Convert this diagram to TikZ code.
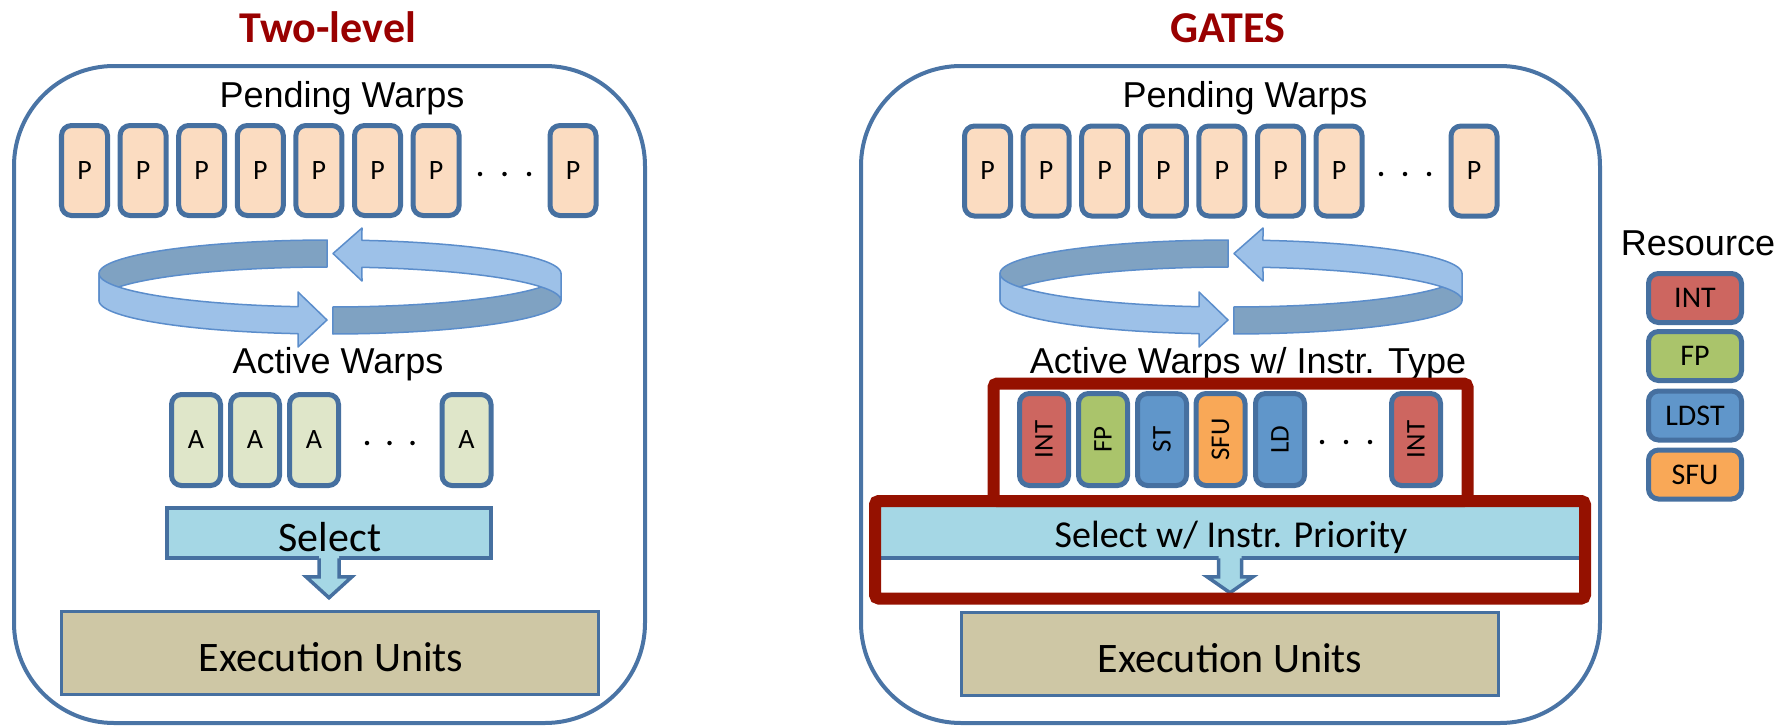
\documentclass[tikz,border=0pt]{standalone}
\usepackage{fontspec}
\setmainfont{Carlito}
\newfontfamily\arialfont{Liberation Sans}
\usetikzlibrary{calc}

\definecolor{frameblue}{RGB}{74,116,165}
\definecolor{boxblue}{RGB}{70,112,160}
\definecolor{pfill}{RGB}{251,220,193}
\definecolor{afill}{RGB}{223,230,201}
\definecolor{intred}{RGB}{205,102,96}
\definecolor{fpgreen}{RGB}{170,196,107}
\definecolor{ldblue}{RGB}{96,150,202}
\definecolor{sfuorange}{RGB}{249,168,87}
\definecolor{selfill}{RGB}{165,215,229}
\definecolor{exfill}{RGB}{206,199,165}
\definecolor{bandlight}{RGB}{157,193,232}
\definecolor{banddark}{RGB}{127,162,194}
\definecolor{bandline}{RGB}{91,141,203}
\definecolor{titlered}{RGB}{153,0,0}
\definecolor{hilite}{RGB}{149,17,0}

\tikzset{
  outerbox/.style={draw=frameblue, line width=1.6pt, rounded corners=40pt},
  warp/.style={draw=boxblue, line width=2pt, rounded corners=4pt, inner sep=0pt,
               font=\fontsize{11.2}{13}\selectfont},
  pwarp/.style={warp, fill=pfill, minimum width=18.4pt, minimum height=36pt},
  awarp/.style={warp, fill=afill, minimum width=19.6pt, minimum height=36.4pt},
  iwarp/.style={warp, rotate=90, minimum width=36.8pt, minimum height=19.6pt,
                font=\fontsize{10.8}{12}\selectfont},
  legbox/.style={warp, minimum width=37.2pt, minimum height=19.6pt,
                 font=\fontsize{12}{14}\selectfont},
  headtext/.style={font=\fontsize{14.4}{16}\selectfont\arialfont, anchor=base, inner sep=0pt},
  paneltitle/.style={font=\fontsize{17.6}{20}\selectfont\bfseries, text=titlered,
                     anchor=base, inner sep=0pt},
  selbox/.style={draw=boxblue, line width=1.4pt, fill=selfill, inner sep=0pt},
  exbox/.style={draw=boxblue, line width=1.2pt, fill=exfill, inner sep=0pt},
  bigtext/.style={font=\fontsize{16.8}{19}\selectfont, anchor=base, inner sep=0pt},
  midtext/.style={font=\fontsize{15.2}{17}\selectfont, anchor=base, inner sep=0pt},
  bandback/.style={fill=banddark, draw=bandline, line width=0.6pt, line join=round},
  bandfront/.style={fill=bandlight, draw=bandline, line width=0.6pt, line join=round},
  arrowside/.style={draw=boxblue, line width=1.4pt, line join=miter},
  frame/.style={draw=hilite, line width=4.8pt, rounded corners=1.5pt},
  dot/.style={fill=black}
}

% looping ribbon with two arrow heads, centred at x = #1
\newcommand{\cycleband}[1]{%
  \begin{scope}[shift={(#1,0)}]
    \filldraw[bandback]
      plot[domain=180:269.3, samples=40] ({231*cos(\x)}, {273.5+33.5*sin(\x)})
      -- plot[domain=269.3:180, samples=40] ({231*cos(\x)}, {300.5+33.5*sin(\x)}) -- cycle;
    \filldraw[bandback]
      plot[domain=89.26:0, samples=40] ({231*cos(\x)}, {273.5+33.5*sin(\x)})
      -- plot[domain=0:89.26, samples=40] ({231*cos(\x)}, {300.5+33.5*sin(\x)}) -- cycle;
    \filldraw[bandfront]
      plot[domain=180:97.96, samples=40] ({231*cos(\x)}, {273.5+33.5*sin(\x)})
      -- (-32,292) -- (-3,320) -- (-32,347)
      -- plot[domain=97.96:180, samples=40] ({231*cos(\x)}, {300.5+33.5*sin(\x)}) -- cycle;
    \filldraw[bandfront]
      (32,228) -- (3,253.5) -- (32,281)
      -- plot[domain=277.96:360, samples=40] ({231*cos(\x)}, {300.5+33.5*sin(\x)})
      -- plot[domain=360:277.96, samples=40] ({231*cos(\x)}, {273.5+33.5*sin(\x)}) -- cycle;
  \end{scope}}

\begin{document}
\begin{tikzpicture}[x=0.4pt, y=-0.4pt]
  \useasboundingbox (0,0) rectangle (1789,727);

  % ---- panels ----
  \draw[outerbox] (14,66) rectangle (645,723);
  \draw[outerbox] (861,66) rectangle (1600,723);

  \node[paneltitle] (tL) at (328,42) {Two-level};
  \node[paneltitle] (tR) at (1228,42) {GATES};

  \node[headtext] (pendL) at (342,107) {Pending Warps};
  \node[headtext] (pendR) at (1245,107) {Pending Warps};

  % ---- pending warps ----
  \foreach \i in {0,...,6} {
    \node[pwarp] (pL\i) at ({84.5+58.6*\i},170.5) {P};
    \node[pwarp] (pR\i) at ({987.5+58.6*\i},171) {P};
  }
  \node[pwarp] (pL7) at (573,170.5) {P};
  \node[pwarp] (pR7) at (1474,171) {P};
  \foreach \d in {480,504.5,529} \fill[dot] (\d,174) circle[radius=0.9pt];
  \foreach \d in {1381,1405,1429} \fill[dot] (\d,174) circle[radius=0.9pt];

  % ---- swap loops ----
  \cycleband{330}
  \cycleband{1231}

  % ---- active warps ----
  \node[headtext] (actL) at (338,373) {Active Warps};
  \node[headtext] (actR) at (1248,373) {Active Warps w/ Instr. Type};

  \node[awarp] (aL0) at (196,440) {A};
  \node[awarp] (aL1) at (255,440) {A};
  \node[awarp] (aL2) at (314,440) {A};
  \node[awarp] (aL3) at (466.5,440) {A};
  \foreach \d in {367,389.5,412.5} \fill[dot] (\d,443) circle[radius=0.9pt];

  % ---- select stage, two-level ----
  \node[selbox, minimum width=129.6pt, minimum height=20pt] (selL) at (329,533) {};
  \node[bigtext] (selLt) at (330,551) {Select};
  \coordinate (aL) at (selL.south);
  \fill[selfill] ($(aL)+(-10,-4)$) -- ($(aL)+(-10,17)$) -- ($(aL)+(-23,17)$) -- ($(aL)+(0,38)$)
     -- ($(aL)+(23,17)$) -- ($(aL)+(10,17)$) -- ($(aL)+(10,-4)$) -- cycle;
  \draw[arrowside] ($(aL)+(-10,-1.5)$) -- ($(aL)+(-10,17)$) -- ($(aL)+(-23,17)$) -- ($(aL)+(0,38)$)
     -- ($(aL)+(23,17)$) -- ($(aL)+(10,17)$) -- ($(aL)+(10,-1.5)$);

  \node[exbox, minimum width=214.8pt, minimum height=33.2pt] (exL) at (330,653) {};
  \node[bigtext] (exLt) at (331,671) {Execution Units};

  % ---- select stage, GATES ----
  \node[selbox, minimum width=281.6pt, minimum height=21.2pt] (selR) at (1230,531.5) {};
  \node[midtext] (selRt) at (1231,547) {Select w/ Instr. Priority};
  \coordinate (aR) at (selR.south);
  \fill[selfill] ($(aR)+(-11.5,-4)$) -- ($(aR)+(-11.5,17)$) -- ($(aR)+(-23,17)$) -- ($(aR)+(0,33)$)
     -- ($(aR)+(23,17)$) -- ($(aR)+(11.5,17)$) -- ($(aR)+(11.5,-4)$) -- cycle;
  \draw[arrowside] ($(aR)+(-11.5,-1.5)$) -- ($(aR)+(-11.5,17)$) -- ($(aR)+(-23,17)$) -- ($(aR)+(0,33)$)
     -- ($(aR)+(23,17)$) -- ($(aR)+(11.5,17)$) -- ($(aR)+(11.5,-1.5)$);

  \node[exbox, minimum width=214.8pt, minimum height=33.2pt] (exR) at (1230,653.5) {};
  \node[bigtext] (exRt) at (1230,672) {Execution Units};

  % ---- typed active warps ----
  \node[iwarp, fill=intred]    (i0) at (1044,439.5) {INT};
  \node[iwarp, fill=fpgreen]   (i1) at (1103,439.5) {FP};
  \node[iwarp, fill=ldblue]    (i2) at (1162,439.5) {ST};
  \node[iwarp, fill=sfuorange] (i3) at (1220.5,439.5) {SFU};
  \node[iwarp, fill=ldblue]    (i4) at (1280,439.5) {LD};
  \node[iwarp, fill=intred]    (i5) at (1416,439.5) {INT};
  \foreach \d in {1322,1346,1370} \fill[dot] (\d,442) circle[radius=0.9pt];

  % ---- highlighted additions ----
  \draw[frame] (993.5,383.5) rectangle (1467.5,501);
  \draw[frame] (875,501) rectangle (1585,598.5);

  % ---- resource legend ----
  \node[headtext] (res) at (1698,255) {Resource};
  \node[legbox, fill=intred]    (r0) at (1695,298) {INT};
  \node[legbox, fill=fpgreen]   (r1) at (1695,356) {FP};
  \node[legbox, fill=ldblue]    (r2) at (1695,415.5) {LDST};
  \node[legbox, fill=sfuorange] (r3) at (1695,474.5) {SFU};
\end{tikzpicture}
\end{document}
